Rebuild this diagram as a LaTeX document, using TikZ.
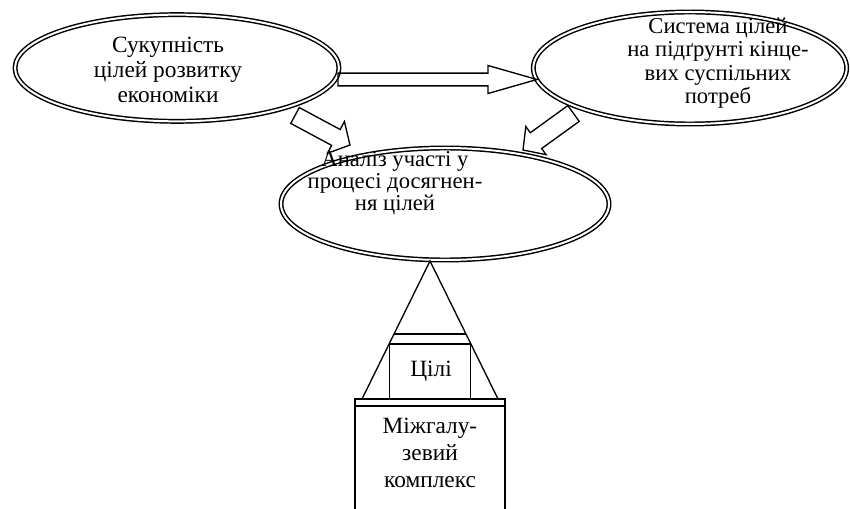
\documentclass[tikz,border=0pt]{standalone}
\usepackage{fontspec}
\setmainfont{Liberation Serif}
\usetikzlibrary{shapes.geometric,calc}
\tikzset{
  oval/.style={ellipse, draw, line width=1.1pt, double, double distance=1.5pt, inner sep=0pt},
  txt/.style={align=center, inner sep=0pt},
  arrowline/.style={draw, line width=1pt, line join=miter},
  thin line/.style={line width=1pt},
  boxnode/.style={draw, line width=1pt, inner sep=0pt}
}
\newcommand{\blockarr}[6]{%
  \coordinate (#6hb) at ($(#2)!#5!(#1)$);
  \draw[arrowline] ($(#1)!#3!90:(#2)$) -- ($(#6hb)!#3!-90:(#1)$) -- ($(#6hb)!#4!-90:(#1)$) -- (#2) -- ($(#6hb)!#4!90:(#1)$) -- ($(#6hb)!#3!90:(#1)$) -- ($(#1)!#3!-90:(#2)$) -- cycle;
}
\begin{document}
\begin{tikzpicture}[x=0.75pt, y=-0.75pt]
\clip (0,0) rectangle (850,509);
\fill[white] (0,0) rectangle (850,509);

% ellipses
\node[oval, minimum width=243pt, minimum height=80pt] (left) at (177,68) {};
\node[oval, minimum width=235pt, minimum height=84pt] (right) at (690,68) {};
\node[oval, minimum width=246pt, minimum height=84pt] (mid) at (445,204) {};

% texts
\node[txt, font=\fontsize{17.5}{19}\selectfont] (lefttxt) at (168,70) {Сукупність\\цілей розвитку\\економіки};
\node[txt, font=\fontsize{17}{17.5}\selectfont] (righttxt) at (718,63) {Система цілей\\на підґрунті кінце-\\вих суспільних\\потреб};
\node[txt, font=\fontsize{17}{16.5}\selectfont] (midtxt) at (395,183) {Аналіз участі у\\процесі досягнен-\\ня цілей};

% block arrows
\coordinate (h1) at (338,79.5);
\coordinate (h2) at (537,79.5);
\blockarr{h1}{h2}{4.8pt}{10.5pt}{36.75pt}{ha}

\coordinate (l1) at (295,115.5);
\coordinate (l2) at (350,145);
\blockarr{l1}{l2}{6.75pt}{13.5pt}{12pt}{la}

\coordinate (r1) at (573.5,113.5);
\coordinate (r2) at (523,150);
\blockarr{r1}{r2}{7.3pt}{13pt}{12pt}{ra}

% triangle
\coordinate (apex) at (430,261);
\coordinate (bl) at (362,399);
\coordinate (br) at (498,399);
\draw[thin line] (bl) -- (apex) -- (br);
\coordinate (sl) at (394.3,334);
\coordinate (sr) at (465.7,334);
\draw[thin line] (sl) -- (sr);

% boxes
\node[boxnode, minimum width=61pt, minimum height=41.25pt] (goals) at (430,371.5) {};
\node[txt, font=\fontsize{17.5}{19}\selectfont] (goalstxt) at (431,371) {Цілі};

\coordinate (bbtl) at (355,399);
\coordinate (bbbr) at (505,530);
\draw[thin line] (bbtl) rectangle (bbbr);
\coordinate (bbl2) at (355,406);
\coordinate (bbr2) at (505,406);
\draw[thin line] (bbl2) -- (bbr2);
\node[txt, font=\fontsize{17.5}{20}\selectfont] (complex) at (430,453) {Міжгалу-\\зевий\\комплекс};
\end{tikzpicture}
\end{document}
